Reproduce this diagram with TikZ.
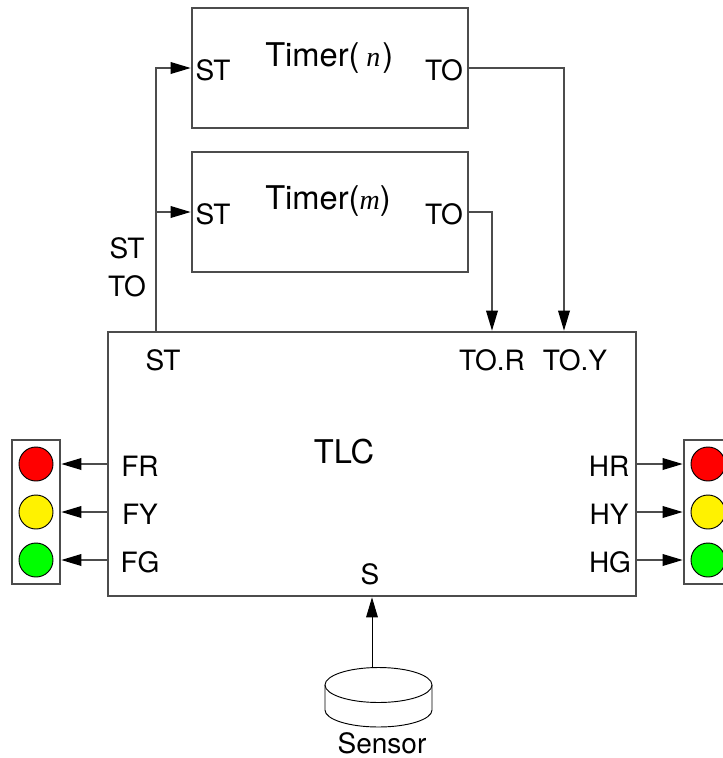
\documentclass[tikz,border=0pt]{standalone}
\usepackage{fontspec}
\setmainfont{TeX Gyre Heros}
\newfontfamily\varfont{Liberation Serif}
\usetikzlibrary{arrows.meta}
\definecolor{linegray}{gray}{0.3}
\tikzset{
  px/.style={x=0.75pt,y=-0.75pt},
  boxed/.style={draw=linegray,line width=1pt,inner sep=0pt,outer sep=0pt,anchor=north west},
  timerbox/.style={boxed,minimum width=207pt,minimum height=90pt},
  lightbox/.style={boxed,minimum width=36pt,minimum height=108pt},
  lamp/.style={circle,draw=black,line width=0.7pt,minimum size=25.5pt,inner sep=0pt,outer sep=0pt},
  lbl/.style={font=\fontsize{21pt}{23pt}\selectfont,inner sep=0pt,text=black},
  big/.style={font=\fontsize{24.5pt}{26pt}\selectfont,inner sep=0pt,text=black},
  sig/.style={draw=linegray,line width=1pt,shorten >=1pt,-{Triangle[length=15pt,width=8.75pt,black]}},
}
\begin{document}
\begin{tikzpicture}[px]
\useasboundingbox (0,0) rectangle (723,758);
\clip (0,0) rectangle (723,758);
\node[timerbox] (tn) at (192,8) {};
\node[timerbox] (tm) at (192,152) {};
\node[boxed,minimum width=396pt,minimum height=198pt] (tlc) at (108,332) {};
\node[lightbox] (lf) at (12,440) {};
\node[lightbox] (lh) at (684,440) {};
% lamps
\node[lamp,fill=red] (fr) at (36,464) {};
\node[lamp,fill=yellow] (fy) at (36,512) {};
\node[lamp,fill=green] (fg) at (36,560) {};
\node[lamp,fill=red] (hr) at (708,464) {};
\node[lamp,fill=yellow] (hy) at (708,512) {};
\node[lamp,fill=green] (hg) at (708,560) {};
% sensor
\draw[black,line width=0.7pt,fill=white] (378.5,685) ellipse[x radius=53.5,y radius=17.5];
\draw[black,line width=0.7pt] (325,685) -- (325,710) arc[start angle=180,end angle=0,x radius=53.5,y radius=17] -- (432,685);
\coordinate (sensortop) at (372,668);
% labels
\node[big,anchor=west] (tnl) at (265,58) {Timer(\hspace{5pt}{\varfont\itshape\fontsize{21pt}{23pt}\selectfont n}\hspace{1.5pt})};
\node[big,anchor=west] (tml) at (265,201) {Timer({\varfont\itshape\fontsize{21pt}{23pt}\selectfont m})};
\node[big] (tlcl) at (344,452) {TLC};
\node[lbl] (st1) at (213,70) {ST};
\node[lbl] (to1) at (444,70) {TO};
\node[lbl] (st2) at (213,214) {ST};
\node[lbl] (to2) at (444,214) {TO};
\node[lbl] (st3) at (127,248) {ST};
\node[lbl] (to3) at (127,286) {TO};
\node[lbl] (st4) at (163,360) {ST};
\node[lbl] (tor) at (492,360) {TO.R};
\node[lbl] (toy) at (575,360) {TO.Y};
\node[lbl] (lfr) at (140,466) {FR};
\node[lbl] (lfy) at (140,514) {FY};
\node[lbl] (lfg) at (140,562) {FG};
\node[lbl] (lhr) at (609,466) {HR};
\node[lbl] (lhy) at (609,514) {HY};
\node[lbl] (lhg) at (610,562) {HG};
\node[lbl] (ls) at (370,574) {S};
\node[lbl] (lsensor) at (382,743) {Sensor};
% connectors
\coordinate (stout) at (156,332);
\coordinate (stn) at (192,68);
\coordinate (stm) at (192,212);
\coordinate (stj) at (156,212);
\draw[sig] (stout) |- (stn);
\draw[sig] (stj) -- (stm);
\coordinate (ton) at (468,68);
\coordinate (tonin) at (564,332);
\coordinate (tom) at (468,212);
\coordinate (tomin) at (492,332);
\draw[sig] (ton) -| (tonin);
\draw[sig] (tom) -| (tomin);
\coordinate (sin) at (372,596);
\draw[sig,draw=black,line width=0.7pt] (sensortop) -- (sin);
\foreach \y/\a in {464/fr,512/fy,560/fg}{
  \draw[sig] (108,\y) -- (lf.east |- \a);
}
\foreach \y/\b in {464/hr,512/hy,560/hg}{
  \draw[sig] (636,\y) -- (lh.west |- \b);
}
\end{tikzpicture}
\end{document}
